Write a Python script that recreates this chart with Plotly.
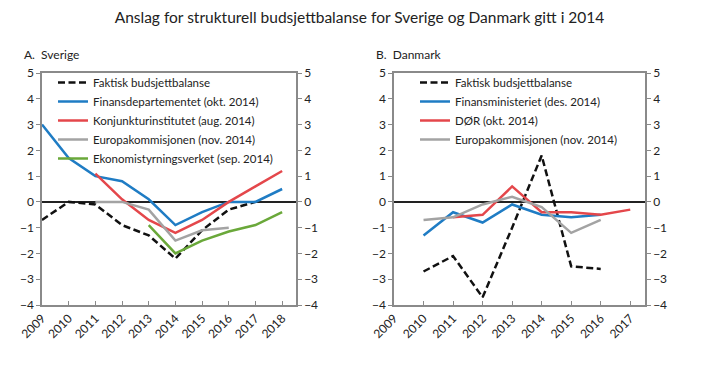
import plotly.graph_objects as go

# ---- Data ----
years_se = [2009, 2010, 2011, 2012, 2013, 2014, 2015, 2016, 2017, 2018]
se_faktisk = [-0.7, 0.0, -0.1, -0.9, -1.3, -2.2, -1.1, -0.3, 0.0, None]
se_finansdep = [3.0, 1.7, 1.0, 0.8, 0.1, -0.9, -0.4, 0.0, 0.0, 0.5]
se_konjunktur = [None, None, 1.1, 0.1, -0.7, -1.2, -0.7, 0.0, 0.6, 1.2]
se_eu = [None, None, 0.0, 0.0, -0.3, -1.5, -1.1, -1.0, None, None]
se_esv = [None, None, None, None, -0.9, -2.0, -1.5, -1.15, -0.9, -0.4]

years_dk = [2009, 2010, 2011, 2012, 2013, 2014, 2015, 2016, 2017]
dk_faktisk = [None, -2.7, -2.1, -3.7, -1.0, 1.8, -2.5, -2.6, None]
dk_finansmin = [None, -1.3, -0.4, -0.8, -0.1, -0.5, -0.6, -0.5, None]
dk_dor = [None, None, -0.6, -0.5, 0.6, -0.4, -0.4, -0.5, -0.3]
dk_eu = [None, -0.7, -0.6, -0.1, 0.2, -0.2, -1.2, -0.7, None]

names_se = ["Faktisk budsjettbalanse", "Finansdepartementet (okt. 2014)",
            "Konjunkturinstitutet (aug. 2014)", "Europakommisjonen (nov. 2014)",
            "Ekonomistyrningsverket (sep. 2014)"]
names_dk = ["Faktisk budsjettbalanse", "Finansministeriet (des. 2014)",
            "DØR (okt. 2014)", "Europakommisjonen (nov. 2014)"]

BLACK = "#111111"
BLUE = "#1f7cc4"
RED = "#e4474b"
GRAY = "#a3a3a3"
GREEN = "#6aa83a"
FONT = "Lato"
W, H = 719, 369
OFF = 8  # page body margin

fig = go.Figure()

def add(x, y, name, color, xa, ya, legend, dash=None):
    fig.add_trace(go.Scatter(
        x=x, y=y, name=name, mode="lines", connectgaps=False,
        line=dict(color=color, width=2.5, dash=dash),
        xaxis=xa, yaxis=ya, legend=legend))

DASH = "7px,3.5px"
add(years_se, se_faktisk, names_se[0], BLACK, "x", "y", "legend", DASH)
add(years_se, se_finansdep, names_se[1], BLUE, "x", "y", "legend")
add(years_se, se_konjunktur, names_se[2], RED, "x", "y", "legend")
add(years_se, se_eu, names_se[3], GRAY, "x", "y", "legend")
add(years_se, se_esv, names_se[4], GREEN, "x", "y", "legend")

add(years_dk, dk_faktisk, names_dk[0], BLACK, "x2", "y3", "legend2", DASH)
add(years_dk, dk_finansmin, names_dk[1], BLUE, "x2", "y3", "legend2")
add(years_dk, dk_dor, names_dk[2], RED, "x2", "y3", "legend2")
add(years_dk, dk_eu, names_dk[3], GRAY, "x2", "y3", "legend2")

# dummy traces so the right-hand axes render
fig.add_trace(go.Scatter(x=[2009], y=[None], xaxis="x", yaxis="y2", showlegend=False, hoverinfo="skip"))
fig.add_trace(go.Scatter(x=[2009], y=[None], xaxis="x2", yaxis="y4", showlegend=False, hoverinfo="skip"))

def px(x):
    return (x - OFF) / W

def py(y):
    return 1 - (y - OFF) / H

AX = "#8a8a8a"
tickfont = dict(family=FONT, size=12, color="#222")
top, bot = 73, 305
L1, R1 = 42, 296
L2, R2 = 394, 645

def xaxis(dom, rng, anchor):
    return dict(domain=[px(dom[0]), px(dom[1])], range=rng, anchor=anchor,
                tickmode="linear", tick0=2009, dtick=1, tickangle=-45,
                ticks="inside", ticklen=4, tickcolor=AX, showline=True,
                linecolor=AX, linewidth=1.5, mirror=True, showgrid=False,
                zeroline=False, tickfont=tickfont, fixedrange=True, automargin=False)

def yaxis(anchor, side="left", overlaying=None, zl=True):
    d = dict(domain=[py(bot), py(top)], range=[-4, 5], anchor=anchor,
             tickmode="linear", tick0=-4, dtick=1, ticks="outside", ticklen=4,
             tickcolor=AX, showline=True, linecolor=AX, linewidth=1.5,
             showgrid=False, zeroline=zl, zerolinecolor="#222",
             zerolinewidth=1.8, tickfont=tickfont, side=side, fixedrange=True,
             automargin=False)
    if overlaying:
        d["overlaying"] = overlaying
    return d

legfont = dict(family=FONT, size=11.5, color="#222")

fig.update_layout(
    template="none",
    width=W, height=H,
    margin=dict(l=0, r=0, t=0, b=0, pad=0, autoexpand=False),
    paper_bgcolor="white", plot_bgcolor="white",
    showlegend=True,
    xaxis=xaxis((L1, R1), [2009, 2018.52], "y"),
    yaxis=yaxis("x"),
    yaxis2=yaxis("x", "right", "y", zl=False),
    xaxis2=xaxis((L2, R2), [2009, 2017.5], "y3"),
    yaxis3=yaxis("x2"),
    yaxis4=yaxis("x2", "right", "y3", zl=False),
    legend=dict(x=px(53), y=py(68), xanchor="left", yanchor="top",
                bgcolor="rgba(0,0,0,0)", font=legfont, tracegroupgap=0, borderwidth=0),
    legend2=dict(x=px(415), y=py(68), xanchor="left", yanchor="top",
                 bgcolor="rgba(0,0,0,0)", font=legfont, tracegroupgap=0, borderwidth=0),
    title=dict(text="Anslag for strukturell budsjettbalanse for Sverige og Danmark gitt i 2014",
               x=px(359.5), xanchor="center", y=py(18), yanchor="middle",
               font=dict(family=FONT, size=15.5, color="#222")),
    annotations=[
        dict(text="A.  Sverige", xref="paper", yref="paper", x=px(22), y=py(54),
             xanchor="left", yanchor="middle", showarrow=False,
             font=dict(family=FONT, size=12, color="#222")),
        dict(text="B.  Danmark", xref="paper", yref="paper", x=px(374), y=py(54),
             xanchor="left", yanchor="middle", showarrow=False,
             font=dict(family=FONT, size=12, color="#222")),
    ],
)

fig.write_html("out.html")
